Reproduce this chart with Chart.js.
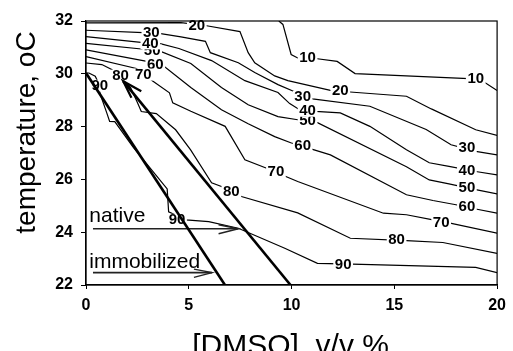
<!DOCTYPE html>
<html><head><meta charset="utf-8">
<script src="https://cdn.jsdelivr.net/npm/chart.js@4/dist/chart.umd.min.js"></script>
<style>html,body{margin:0;padding:0;background:#fff;}#wrap{width:513px;height:351px;}</style>
</head><body><div id="wrap"><canvas id="c" width="513" height="351"></canvas></div>
<script>
const FAM = "'Liberation Sans', Arial, Helvetica, sans-serif";
const xTitle = "[DMSO], v/v %";
const yTitle = "temperature, oC";
const xRange = [0, 20];
const yRange = [22, 32];
const xStep = 5;
const yStep = 2;

// contour lines: [DMSO] %, temperature
const c10 = [[9.38,32.0],[9.58,31.87],[9.98,30.73],[10.3,30.6],[11.16,30.58],[12.22,30.47],[13.09,30.01],[18.62,29.82],[19.44,29.65],[20,29.37]];
const c20 = [[0,31.93],[4.62,31.94],[5.87,31.82],[7.49,31.6],[7.89,30.8],[8.21,30.42],[9.18,29.92],[9.82,29.74],[11.89,29.37],[12.85,29.31],[15.59,29.15],[16.8,28.67],[18.96,27.88],[20,27.67]];
const c30 = [[0,31.65],[2.79,31.56],[3.56,31.53],[4.62,31.40],[5.81,31.23],[6.05,30.80],[7.41,30.42],[8.21,30.05],[9.34,29.59],[10.15,29.32],[11.02,29.05],[13.81,28.77],[16.55,27.89],[17.76,27.31],[18.96,27.06],[20,26.93]];
const c40 = [[0,31.41],[2.79,31.18],[3.56,31.15],[4.52,30.96],[6.11,30.50],[7.73,29.74],[9.34,29.29],[9.91,28.87],[10.39,28.64],[11.16,28.58],[12.37,28.52],[13.81,28.01],[15.59,27.12],[16.70,26.63],[17.66,26.49],[18.96,26.30],[20,26.17]];
const c50 = [[0,31.15],[2.94,30.92],[3.66,30.84],[5.10,30.39],[6.59,29.48],[7.89,28.83],[9.34,28.38],[10.30,28.26],[11.26,28.15],[15.59,26.48],[16.70,25.98],[17.66,25.83],[18.96,25.61],[20,25.45]];
const c60 = [[0,30.91],[3.03,30.46],[3.75,30.31],[5.10,29.48],[6.59,28.64],[7.89,28.11],[9.18,27.62],[9.96,27.39],[11.10,27.12],[11.89,26.93],[15.59,25.42],[16.88,25.20],[18.0,25.04],[18.96,24.88],[20,24.72]];
const c70 = [[0,30.65],[2.45,30.20],[3.26,29.72],[4.06,29.28],[4.22,28.90],[5.10,28.58],[6.77,28.01],[7.73,26.74],[8.76,26.43],[9.72,26.11],[10.30,25.92],[14.47,24.72],[15.59,24.66],[16.88,24.47],[17.66,24.35],[20,23.96]];
const c80 = [[0,30.41],[0.77,30.35],[1.25,30.16],[2.17,29.48],[2.50,28.91],[2.69,28.57],[3.42,28.49],[4.36,27.88],[5.09,27.12],[6.11,25.87],[6.59,25.73],[7.56,25.35],[10.30,24.73],[12.86,23.77],[15.59,23.68],[17.36,23.61],[20,23.20]];
const c90 = [[0,30.03],[0.14,30.03],[0.45,29.91],[0.67,29.55],[0.67,29.28],[1.01,28.52],[1.15,28.20],[1.40,28.19],[2.31,27.20],[3.95,25.64],[4.02,24.77],[4.86,24.47],[5.97,24.40],[7.41,24.15],[9.67,23.39],[11.26,22.82],[12.95,22.79],[18.96,22.67],[20,22.47]];
const contours = [c10,c20,c30,c40,c50,c60,c70,c80,c90];

// contour labels: level, x, y
const contourLabels = [
  [10,10.78,30.61],[10,18.96,29.82],
  [20,5.39,31.83],[20,12.37,29.36],
  [30,3.18,31.56],[30,10.54,29.13],[30,18.53,27.20],
  [50,3.22,30.88],[50,10.78,28.22],[50,18.53,25.68],
  [40,3.13,31.15],[40,10.78,28.60],[40,18.53,26.36],
  [60,3.37,30.35],[60,10.54,27.28],[60,18.53,24.96],
  [70,2.79,29.97],[70,9.24,26.29],[70,17.28,24.39],
  [80,1.68,29.93],[80,7.07,25.53],[80,15.11,23.71],
  [90,0.67,29.55],[90,4.43,24.47],[90,12.51,22.80]
];

// thick boundary lines
const immobilizedLine = [[0,30.03],[6.76,22]];
const nativeLine = [[1.81,29.72],[9.95,22]];
const nativeHead = [[2.69,29.34],[1.81,29.72],[2.21,29.09]];
// horizontal pointer arrows
const nativeArrow = [[0.34,24.13],[7.41,24.13]];
const nativeArrowHead = [[6.45,24.28],[7.41,24.13],[6.45,23.94]];
const immobArrow = [[0.34,22.47],[6.13,22.47]];
const immobArrowHead = [[5.25,22.60],[6.13,22.47],[5.25,22.29]];
const textNotes = [["native",0.16,24.40],["immobilized",0.16,22.63]];

const toXY = a => a.map(p => ({x:p[0], y:p[1]}));
const datasets = [];
function addLine(arr, w, col, thick){
  datasets.push({data:toXY(arr), borderColor:col, borderWidth:w, pointRadius:0, tension:0,
    fill:false, showLine:true, order: thick?1:2, thick: !!thick});
}
addLine(immobilizedLine, 2.6, '#000', true);
addLine(nativeLine, 2.6, '#000', true);
addLine(nativeHead, 2.2, '#000', true);
addLine(nativeArrow, 1.6, '#222', true);
addLine(nativeArrowHead, 1.4, '#222', true);
addLine(immobArrow, 1.6, '#222', true);
addLine(immobArrowHead, 1.4, '#222', true);
contours.forEach(c => addLine(c, 1.2, '#000', false));

function drawContourLabels(chart){
  const ctx = chart.ctx, sx = chart.scales.x, sy = chart.scales.y;
  ctx.save();
  ctx.font = "bold 15px " + FAM;
  ctx.textAlign = 'center'; ctx.textBaseline = 'middle';
  contourLabels.forEach(([lev,x,y]) => {
    const X = sx.getPixelForValue(x), Y = sy.getPixelForValue(y);
    const t = String(lev), w = ctx.measureText(t).width;
    ctx.fillStyle = '#fff'; ctx.fillRect(X - w/2 - 1.5, Y - 6, w + 3, 12);
    ctx.fillStyle = '#000'; ctx.fillText(t, X, Y + 0.5);
  });
  ctx.restore();
}

const deco = {
  id: 'deco',
  beforeDatasetsDraw(chart){ chart.$lblDone = false; },
  beforeDatasetDraw(chart, args){
    const ds = chart.data.datasets[args.index];
    if (ds.thick && !chart.$lblDone){ drawContourLabels(chart); chart.$lblDone = true; }
  },
  afterDatasetsDraw(chart){ if (!chart.$lblDone){ drawContourLabels(chart); chart.$lblDone = true; } },
  afterDraw(chart){
    const ctx = chart.ctx, a = chart.chartArea, sx = chart.scales.x, sy = chart.scales.y;
    ctx.save();
    ctx.strokeStyle = '#000'; ctx.lineWidth = 1.2;
    ctx.strokeRect(a.left, a.top, a.right - a.left, a.bottom - a.top);
    // notes
    ctx.fillStyle = '#000'; ctx.textAlign = 'left'; ctx.textBaseline = 'alphabetic';
    ctx.font = "21px " + FAM;
    textNotes.forEach(([t,x,y]) => ctx.fillText(t, sx.getPixelForValue(x), sy.getPixelForValue(y)));
    // axis titles
    ctx.font = "30px " + FAM; ctx.textAlign = 'center';
    ctx.fillText(xTitle, (a.left + a.right)/2 - 1, chart.height + 4);
    ctx.save();
    ctx.translate(35, a.top + 111.5);
    ctx.rotate(-Math.PI/2);
    ctx.font = "28px " + FAM;
    ctx.fillText(yTitle, 0, 0);
    ctx.restore();
    ctx.restore();
  }
};

new Chart(document.getElementById('c'), {
  type: 'scatter',
  data: { datasets },
  plugins: [deco],
  options: {
    responsive: false, animation: false, devicePixelRatio: 1,
    layout: { padding: { top: 21, right: 11, left: 0, bottom: 0 } },
    plugins: { legend: {display:false}, tooltip: {enabled:false}, title:{display:false} },
    scales: {
      x: { type:'linear', min:xRange[0], max:xRange[1], position:'bottom',
        ticks: { stepSize:xStep, color:'#000', font:{size:16, weight:'bold', family:FAM}, padding:7, maxRotation:0 },
        grid: { drawOnChartArea:false, drawTicks:true, tickLength:4, color:'#000', tickColor:'#000' },
        border: { display:true, color:'#000', width:1.2 },
        afterFit(s){ s.height = 66; } },
      y: { type:'linear', min:yRange[0], max:yRange[1], position:'left',
        ticks: { stepSize:yStep, color:'#000', font:{size:16, weight:'bold', family:FAM}, padding:8 },
        grid: { drawOnChartArea:false, drawTicks:true, tickLength:5, color:'#000', tickColor:'#000' },
        border: { display:true, color:'#000', width:1.2 },
        afterFit(s){ s.width = 86; } }
    }
  }
});
</script></body></html>
